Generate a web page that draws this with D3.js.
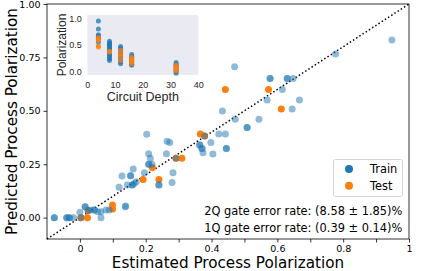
<!DOCTYPE html>
<html>
<head>
<meta charset="utf-8">
<script src="https://cdn.jsdelivr.net/npm/d3@7"></script>
<style>
  body { margin: 0; background: #fff; }
  svg { display: block; font-family: "DejaVu Sans", sans-serif; }
</style>
</head>
<body>
<div id="chart"></div>
<script>
// main scatter: [estimated, predicted]
var trainPoints = [
  [0.948, 0.832], [0.777, 0.766], [0.470, 0.706],
  [0.578, 0.651], [0.578, 0.651], [0.630, 0.651], [0.630, 0.651], [0.648, 0.651],
  [0.615, 0.600], [0.569, 0.551], [0.667, 0.551], [0.645, 0.508],
  [0.433, 0.499], [0.472, 0.460], [0.544, 0.460], [0.508, 0.422], [0.508, 0.422],
  [0.422, 0.391], [0.442, 0.391], [0.379, 0.382], [0.398, 0.352],
  [0.364, 0.340], [0.364, 0.340], [0.371, 0.324], [0.371, 0.324],
  [0.445, 0.324], [0.445, 0.324], [0.404, 0.298], [0.374, 0.304],
  [0.203, 0.390], [0.265, 0.358], [0.273, 0.352], [0.209, 0.299], [0.214, 0.278],
  [0.263, 0.299], [0.209, 0.250], [0.209, 0.250], [0.219, 0.250], [0.292, 0.278],
  [0.162, 0.228], [0.196, 0.210], [0.283, 0.210], [0.128, 0.195],
  [0.154, 0.196], [0.154, 0.196], [0.240, 0.153], [0.240, 0.153], [0.280, 0.165],
  [0.171, 0.168], [0.144, 0.153], [0.159, 0.153], [0.159, 0.153], [0.165, 0.160],
  [0.119, 0.142], [0.138, 0.051],
  [-0.078, 0.0], [-0.078, 0.0], [-0.040, 0.0], [-0.040, 0.0], [-0.032, 0.0], [-0.032, 0.0],
  [-0.019, 0.0], [0.0, 0.025], [0.003, 0.0], [0.016, 0.051], [0.016, 0.051],
  [0.025, 0.033], [0.033, 0.036], [0.044, 0.036], [0.044, 0.036], [0.054, 0.028],
  [0.064, 0.028], [0.064, 0.0], [0.079, 0.036], [0.089, 0.036], [0.139, 0.055]
];
var testPoints = [
  [0.442, 0.600], [0.573, 0.600], [0.612, 0.508], [0.366, 0.391], [0.379, 0.382],
  [0.220, 0.235], [0.292, 0.278], [0.310, 0.278], [0.192, 0.179], [0.240, 0.179],
  [0.099, 0.059], [0.099, 0.040], [0.023, 0.0], [0.003, 0.0], [0.025, 0.033]
];

// inset: [circuit depth, polarization]
var insetTrain = [
  [4, 0.95], [4, 0.80], [4, 0.69], [4, 0.67], [4, 0.65], [4, 0.62], [4, 0.55],
  [8, 0.57], [8, 0.54], [8, 0.52], [8, 0.50], [8, 0.47], [8, 0.45], [8, 0.42],
  [8, 0.40], [8, 0.36], [8, 0.33], [8, 0.30], [8, 0.27], [8, 0.24], [8, 0.21],
  [12, 0.47], [12, 0.44], [12, 0.41], [12, 0.37], [12, 0.33], [12, 0.30],
  [12, 0.26], [12, 0.22], [12, 0.18], [12, 0.15],
  [16, 0.32], [16, 0.29], [16, 0.26], [16, 0.23], [16, 0.20], [16, 0.17], [16, 0.14], [16, 0.12],
  [32, 0.17], [32, 0.14], [32, 0.11], [32, 0.08], [32, 0.05], [32, 0.02], [32, 0.0], [32, -0.03]
];
var insetTest = [
  [4, 0.64], [4, 0.61], [4, 0.59], [4, 0.48], [4, 0.46],
  [8, 0.38], [8, 0.37],
  [12, 0.40], [12, 0.33], [12, 0.29], [12, 0.21],
  [16, 0.27], [16, 0.24], [16, 0.21], [16, 0.18], [16, 0.15],
  [32, 0.12], [32, 0.09], [32, 0.06], [32, 0.03], [32, 0.01]
];

var xTicks = [0, 0.1, 0.2, 0.3, 0.4, 0.5, 0.6, 0.7, 0.8, 0.9, 1];
var xTickLabels = ['0', '', '0.2', '', '0.4', '', '0.6', '', '0.8', '', '1'];
var yTicks = [0, 0.25, 0.5, 0.75, 1];
var yTickLabels = ['0.00', '0.25', '0.50', '0.75', '1.00'];
var insetXTicks = [0, 10, 20, 30, 40];
var insetYTicks = [0, 0.5, 1];
var legendLabels = ['Train', 'Test'];
var notes = ['2Q gate error rate: (8.58 \u00b1 1.85)%', '1Q gate error rate: (0.39 \u00b1 0.14)%'];

var blue = '#1f77b4', orange = '#ff7f0e';
var width = 436, height = 271;
var m = { top: 4, right: 27, bottom: 32, left: 47 };
var insetFont = '"Liberation Sans", Arial, sans-serif';

var svg = d3.select('#chart').append('svg')
  .attr('width', width)
  .attr('height', height);

var x = d3.scaleLinear().domain([-0.1, 1]).range([m.left, width - m.right]);
var y = d3.scaleLinear().domain([-0.1, 1]).range([height - m.bottom, m.top]);

var plot = svg.append('g');

// diagonal
plot.append('line')
  .attr('x1', x(-0.1)).attr('y1', y(-0.1))
  .attr('x2', x(1)).attr('y2', y(1))
  .attr('stroke', '#000')
  .attr('stroke-width', 1.5)
  .attr('stroke-dasharray', '1.5,2.3');

plot.selectAll('circle.test')
  .data(testPoints)
  .enter().append('circle')
  .attr('class', 'test')
  .attr('cx', function(d) { return x(d[0]); })
  .attr('cy', function(d) { return y(d[1]); })
  .attr('r', 3.5)
  .attr('fill', orange);

plot.selectAll('circle.train')
  .data(trainPoints)
  .enter().append('circle')
  .attr('class', 'train')
  .attr('cx', function(d) { return x(d[0]); })
  .attr('cy', function(d) { return y(d[1]); })
  .attr('r', 3.5)
  .attr('fill', blue)
  .attr('fill-opacity', 0.5);

// axes
var xAxis = svg.append('g')
  .attr('transform', 'translate(0,' + (height - m.bottom) + ')')
  .call(d3.axisBottom(x).tickValues(xTicks).tickSize(3.5).tickPadding(3)
    .tickFormat(function(d, i) { return xTickLabels[i]; }));
var yAxis = svg.append('g')
  .attr('transform', 'translate(' + m.left + ',0)')
  .call(d3.axisLeft(y).tickValues(yTicks).tickSize(3.5).tickPadding(3)
    .tickFormat(function(d, i) { return yTickLabels[i]; }));
[xAxis, yAxis].forEach(function(a) {
  a.select('.domain').remove();
  a.selectAll('text').attr('font-size', 9.5).attr('fill', '#000')
    .attr('font-family', '"DejaVu Sans", sans-serif');
  a.selectAll('line').attr('stroke', '#000').attr('stroke-width', 0.8);
});

svg.append('rect')
  .attr('x', x(-0.1)).attr('y', y(1))
  .attr('width', x(1) - x(-0.1)).attr('height', y(-0.1) - y(1))
  .attr('fill', 'none').attr('stroke', '#000').attr('stroke-width', 0.8);

svg.append('text')
  .attr('x', (x(-0.1) + x(1)) / 2).attr('y', 268)
  .attr('text-anchor', 'middle').attr('font-size', 15.2)
  .text('Estimated Process Polarization');
svg.append('text')
  .attr('transform', 'translate(17,' + ((y(-0.1) + y(1)) / 2) + ') rotate(-90)')
  .attr('text-anchor', 'middle').attr('font-size', 15.2)
  .text('Predicted Process Polarization');

// legend
var lg = svg.append('g').attr('transform', 'translate(333.5,159.5)');
lg.append('rect').attr('width', 69).attr('height', 37).attr('rx', 2)
  .attr('fill', '#fff').attr('fill-opacity', 0.8)
  .attr('stroke', '#cccccc').attr('stroke-width', 0.8);
legendLabels.forEach(function(lab, i) {
  lg.append('circle').attr('cx', 15.5).attr('cy', 9.5 + i * 16.7).attr('r', 4)
    .attr('fill', i === 0 ? blue : orange);
  lg.append('text').attr('x', 36.5).attr('y', 9.5 + i * 16.7 + 4)
    .attr('font-size', 11.4).text(lab);
});

notes.forEach(function(t, i) {
  svg.append('text')
    .attr('x', 402.3).attr('y', 215 + i * 16.7)
    .attr('text-anchor', 'end').attr('font-size', 11.4)
    .text(t);
});

// inset
var ix = d3.scaleLinear().domain([0, 40]).range([87.3, 198.3]);
var iy = d3.scaleLinear().domain([-0.063, 1.062]).range([75, 15]);
var inset = svg.append('g');
inset.append('rect')
  .attr('x', ix(0)).attr('y', iy(1.062))
  .attr('width', ix(40) - ix(0)).attr('height', iy(-0.063) - iy(1.062))
  .attr('fill', '#eaeaf2');
inset.selectAll('circle.itrain')
  .data(insetTrain)
  .enter().append('circle')
  .attr('cx', function(d) { return ix(d[0]); })
  .attr('cy', function(d) { return iy(d[1]); })
  .attr('r', 2.5)
  .attr('fill', blue).attr('fill-opacity', 0.75);
inset.selectAll('circle.itest')
  .data(insetTest)
  .enter().append('circle')
  .attr('cx', function(d) { return ix(d[0]); })
  .attr('cy', function(d) { return iy(d[1]); })
  .attr('r', 2.5)
  .attr('fill', orange).attr('fill-opacity', 0.75);

var ixa = inset.append('g').attr('transform', 'translate(0,75)')
  .call(d3.axisBottom(ix).tickValues(insetXTicks).tickSize(0).tickPadding(6.5));
var iya = inset.append('g').attr('transform', 'translate(87.3,0)')
  .call(d3.axisLeft(iy).tickValues(insetYTicks).tickSize(0).tickPadding(5.5)
    .tickFormat(d3.format('.1f')));
[ixa, iya].forEach(function(a) {
  a.select('.domain').remove();
  a.selectAll('text').attr('font-size', 9).attr('fill', '#262626')
    .attr('font-family', insetFont);
});
inset.append('text')
  .attr('x', (ix(0) + ix(40)) / 2).attr('y', 101)
  .attr('text-anchor', 'middle').attr('font-size', 12.5).attr('fill', '#262626')
  .attr('font-family', insetFont)
  .text('Circuit Depth');
inset.append('text')
  .attr('transform', 'translate(66,' + ((iy(-0.063) + iy(1.062)) / 2) + ') rotate(-90)')
  .attr('text-anchor', 'middle').attr('font-size', 12).attr('fill', '#262626')
  .attr('font-family', insetFont)
  .text('Polarization');
</script>
</body>
</html>
